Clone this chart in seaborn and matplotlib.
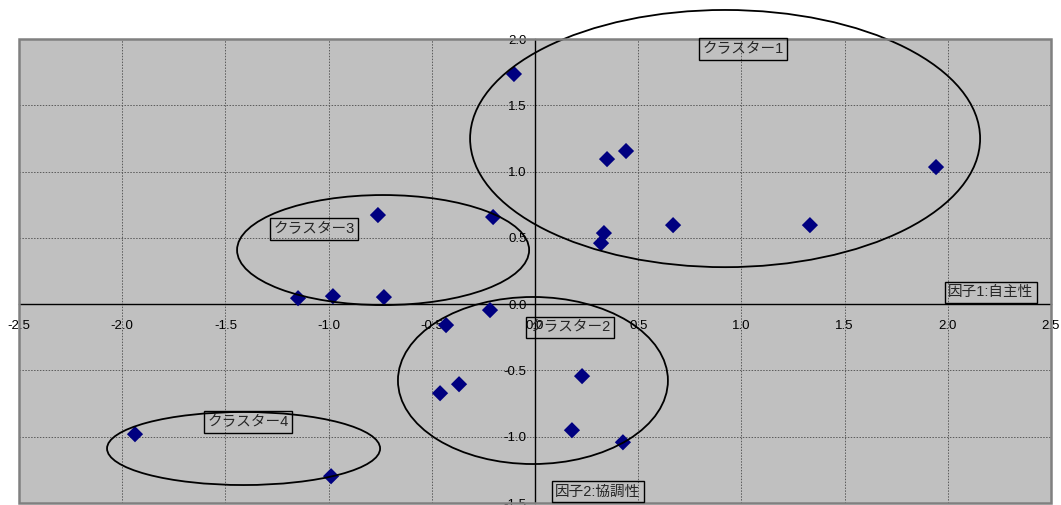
import matplotlib
matplotlib.use("Agg")
import matplotlib.pyplot as plt
from matplotlib.patches import Ellipse, Rectangle
import seaborn as sns
import pandas as pd
import numpy as np

# Factor scores (factor 1: autonomy, factor 2: cooperativeness)
factor1 = [-0.102, 0.349, 0.441, 1.943, 0.334, 0.320, 0.669, 1.332,
           -0.761, -0.203, -1.148, -0.979, -0.732,
           -0.431, -0.218, -0.460, -0.368, 0.228, 0.179, 0.426,
           -1.938, -0.988]
factor2 = [1.736, 1.094, 1.155, 1.034, 0.536, 0.460, 0.596, 0.596,
           0.672, 0.657, 0.045, 0.060, 0.053,
           -0.158, -0.045, -0.672, -0.604, -0.543, -0.951, -1.042,
           -0.981, -1.298]

# Cluster outlines: centre, width, height (data units)
cluster_names = ["クラスター1", "クラスター2", "クラスター3", "クラスター4"]
cluster_cx = [0.921, -0.010, -0.736, -1.412]
cluster_cy = [1.249, -0.576, 0.408, -1.089]
cluster_w = [2.471, 1.308, 1.415, 1.323]
cluster_h = [1.940, 1.260, 0.830, 0.551]
# Cluster label anchors (left edge, vertical centre)
label_x = [0.812, -0.028, -1.268, -1.588]
label_y = [1.924, -0.177, 0.566, -0.889]

axis_titles = ["因子1:自主性", "因子2:協調性"]
axis_title_x = [2.002, 0.098]
axis_title_y = [0.088, -1.413]

ticks_x = [-2.5, -2.0, -1.5, -1.0, -0.5, 0.0, 0.5, 1.0, 1.5, 2.0, 2.5]
ticks_y = [-1.5, -1.0, -0.5, 0.0, 0.5, 1.0, 1.5, 2.0]

sns.set_style("white")
plt.rcParams["font.family"] = ["Liberation Sans", "Noto Sans CJK JP"]
plt.rcParams["axes.unicode_minus"] = False

fig = plt.figure(figsize=(10.61, 5.05), dpi=100)
ax = fig.add_axes([19 / 1061, 1 - 503 / 505, 1032 / 1061, 464 / 505])
ax.set_facecolor("#C0C0C0")

df = pd.DataFrame({"f1": factor1, "f2": factor2})
sns.scatterplot(data=df, x="f1", y="f2", marker="D", s=68, color="#000080",
                edgecolor="none", ax=ax, zorder=4, clip_on=False)

ax.set_xlim(-2.5, 2.5)
ax.set_ylim(-1.5, 2.0)
ax.set_xticks(ticks_x)
ax.set_yticks(ticks_y)
ax.set_xticklabels([f"{v:.1f}" for v in ticks_x])
ax.set_yticklabels([f"{v:.1f}" for v in ticks_y])
ax.set_xlabel("")
ax.set_ylabel("")

ax.grid(True, color="#5a5a5a", linestyle=(0, (1.5, 1.5)), linewidth=0.7)
ax.set_axisbelow(True)

# Axes cross at the origin
for side in ("left", "bottom"):
    ax.spines[side].set_position(("data", 0))
    ax.spines[side].set_color("black")
    ax.spines[side].set_linewidth(1.0)
    ax.spines[side].set_zorder(3)
for side in ("top", "right"):
    ax.spines[side].set_visible(False)

ax.tick_params(axis="x", direction="out", length=3, width=0.8, pad=8.5,
               labelsize=9.5, colors="black")
ax.tick_params(axis="y", direction="out", length=3, width=0.8, pad=3,
               labelsize=9.5, colors="black")
for lab in ax.get_xticklabels() + ax.get_yticklabels():
    lab.set_zorder(5)

# Plot-area frame
ax.add_patch(Rectangle((0, 0), 1, 1, transform=ax.transAxes, fill=False,
                       edgecolor="#808080", linewidth=1.8, clip_on=False,
                       zorder=6))

for cx, cy, w, h in zip(cluster_cx, cluster_cy, cluster_w, cluster_h):
    ax.add_patch(Ellipse((cx, cy), w, h, fill=False, edgecolor="black",
                         linewidth=1.3, clip_on=False, zorder=5))

box = dict(boxstyle="square,pad=0.25", facecolor="none", edgecolor="black",
           linewidth=1.0)
for name, x, y in zip(cluster_names, label_x, label_y):
    ax.text(x, y, name, ha="left", va="center", fontsize=10.5, bbox=box,
            zorder=7, clip_on=False)
for name, x, y in zip(axis_titles, axis_title_x, axis_title_y):
    ax.text(x, y, name, ha="left", va="center", fontsize=10.5, bbox=box,
            zorder=7, clip_on=False)

fig.savefig("out.png", dpi=100, facecolor="white")
